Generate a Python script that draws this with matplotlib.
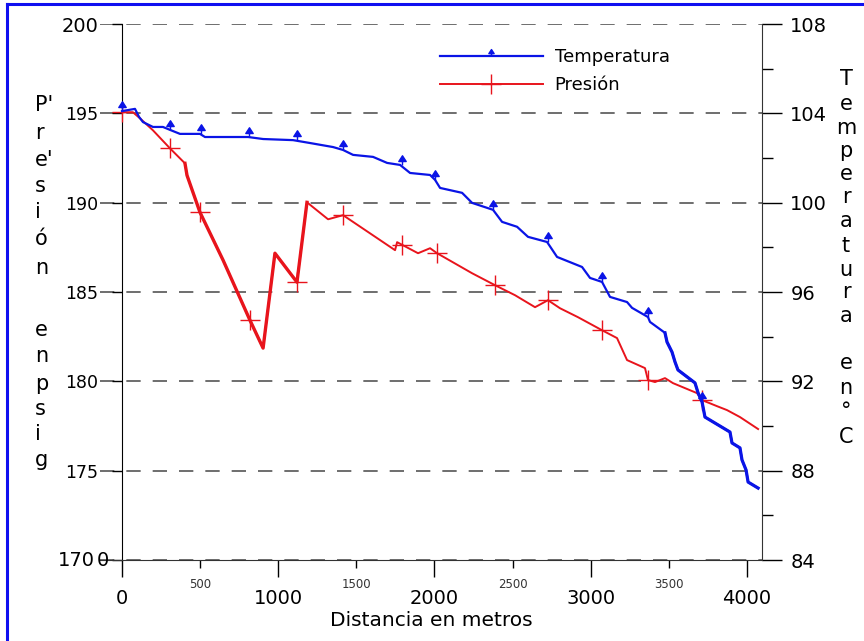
import matplotlib
matplotlib.use("Agg")
import matplotlib.pyplot as plt
from matplotlib.path import Path
from matplotlib.lines import Line2D

# Temperatura (C) a lo largo de la linea
dist_temp = [0, 83, 109, 134, 198, 262, 307, 371, 499, 531,
             807, 903, 1095, 1204, 1351, 1415, 1479, 1607, 1697, 1780,
             1844, 1972, 2004, 2036, 2177, 2241, 2375, 2433, 2529, 2599,
             2721, 2785, 2945, 2996, 3073, 3124, 3233, 3265, 3367, 3380,
             3476, 3489, 3521, 3540, 3559, 3668, 3688, 3713, 3732, 3892,
             3905, 3956, 3969, 3995, 4008, 4072]
temperatura = [104.1, 104.2, 103.84, 103.61, 103.39, 103.39, 103.26, 103.08, 103.08, 102.94,
               102.94, 102.85, 102.80, 102.67, 102.49, 102.36, 102.14, 102.05, 101.78, 101.69,
               101.33, 101.24, 101.02, 100.66, 100.44, 99.99, 99.68, 99.14, 98.92, 98.47,
               98.24, 97.57, 97.12, 96.63, 96.45, 95.78, 95.55, 95.29, 94.88, 94.66,
               94.17, 93.76, 93.31, 92.87, 92.51, 91.93, 91.48, 91.08, 90.40, 89.73,
               89.24, 89.02, 88.48, 88.03, 87.49, 87.22]
temp_mark_x = [0, 307, 506, 813, 1120, 1415, 1793, 2004, 2375, 2727, 3073, 3367, 3713]
temp_mark_y = [104.1, 103.26, 103.08, 102.94, 102.8, 102.36, 101.69, 101.02, 99.68, 98.24, 96.45, 94.88, 91.08]

# Presion (psig)
dist_pres = [0, 70, 115, 198, 307, 403, 416, 499, 647, 819,
             903, 979, 1120, 1184, 1319, 1415, 1748, 1761, 1895, 1972,
             2017, 2241, 2388, 2516, 2644, 2727, 2804, 2919, 3073, 3169,
             3233, 3348, 3367, 3412, 3476, 3527, 3681, 3713, 3809, 3873,
             3956, 4072]
presion = [195.06, 195.06, 194.72, 194.05, 193.04, 192.2, 191.53, 189.46, 186.78, 183.42,
           181.86, 187.17, 185.55, 190.02, 189.07, 189.3, 187.34, 187.79, 187.17, 187.45,
           187.17, 186.05, 185.38, 184.82, 184.15, 184.54, 184.09, 183.59, 182.86, 182.42,
           181.19, 180.74, 180.07, 179.96, 180.18, 179.9, 179.34, 178.95, 178.61, 178.39,
           178.0, 177.33]
pres_mark_x = [0, 307, 499, 819, 1120, 1415, 1793, 2017, 2388, 2727, 3073, 3367, 3713]
pres_mark_y = [195.06, 193.04, 189.46, 183.42, 185.55, 189.3, 187.62, 187.17, 185.38, 184.54, 182.86, 180.07, 178.95]

p_ticks = [170, 175, 180, 185, 190, 195, 200]
t_ticks = [84, 88, 92, 96, 100, 104, 108]
t_minor = [86, 90, 94, 98, 102, 106]
x_major = [0, 1000, 2000, 3000, 4000]
x_minor = [500, 1500, 2500, 3500]

W, H = 864, 641
BLUE = '#0a14e6'
RED = '#e8141c'


def fx(px):
    return px / W


def fy(py):
    return 1 - py / H


# flechita usada como marcador de temperatura
arrow = Path([(0, 0), (0, 0.5), (-0.42, 0.45), (0, 1.1), (0.42, 0.45), (0, 0.45)],
             [Path.MOVETO, Path.LINETO, Path.MOVETO, Path.LINETO, Path.LINETO, Path.CLOSEPOLY])

fig = plt.figure(figsize=(W / 100, H / 100), dpi=100)
ax = fig.add_axes([fx(100), fy(560), fx(762) - fx(100), fy(24) - fy(560)])
ax2 = ax.twinx()

ax.set_xlim(-141, 4097)
ax.set_ylim(170, 200)
ax2.set_ylim(84, 108)

# presion
ax.plot(dist_pres, presion, color=RED, lw=1.4, zorder=3)
ax.plot(dist_pres[5:14], presion[5:14], color=RED, lw=2.4, zorder=3)
ax.plot(pres_mark_x, pres_mark_y, ls='none', marker='+', ms=15, mew=1.0, color=RED, zorder=4)

# temperatura
ax2.plot(dist_temp, temperatura, color=BLUE, lw=1.6, zorder=3)
ax2.plot(dist_temp[40:], temperatura[40:], color=BLUE, lw=2.3, zorder=3)
ax2.plot(temp_mark_x, temp_mark_y, ls='none', marker=arrow, ms=14, mew=1.0,
         color=BLUE, zorder=4)

# ejes
for s in ['top', 'right']:
    ax.spines[s].set_visible(False)
for s in ['top', 'left', 'bottom']:
    ax2.spines[s].set_visible(False)
ax.spines['left'].set_position(('data', 0))
ax.spines['left'].set_color('black')
ax.spines['bottom'].set_color('#333333')
ax2.spines['right'].set_color('#333333')

ax.set_yticks(p_ticks)
# el 170 va aparte, junto al "0" suelto
ax.set_yticklabels([''] + [str(v) for v in p_ticks[1:]])
ax.tick_params(axis='y', length=7, width=1, pad=10, labelsize=12.5)
for lbl in ax.get_yticklabels():
    if lbl.get_text() == '200':
        lbl.set_fontsize(14)
ax.yaxis.grid(True, linestyle=(0, (8.6, 7.2)), color='#555555', lw=1.2)
ax.set_axisbelow(True)

ax.set_xticks(x_major)
ax.set_xticklabels([str(v) for v in x_major])
ax.set_xticks(x_minor, minor=True)
ax.set_xticklabels([str(v) for v in x_minor], minor=True)
ax.tick_params(axis='x', which='major', length=12, width=1, pad=9, labelsize=14)
ax.tick_params(axis='x', which='minor', length=6, width=1, pad=7, labelsize=8.5, labelcolor='#333333')

ax2.set_yticks(t_ticks)
ax2.set_yticks(t_minor, minor=True)
ax2.tick_params(axis='y', which='major', length=14.4, width=1, pad=6, labelsize=14)
ax2.tick_params(axis='y', which='minor', length=8, width=1)

ax.set_xlabel('Distancia en metros', fontsize=14.5, labelpad=2)

fig.text(fx(95), fy(561), str(p_ticks[0]), ha='right', va='center', fontsize=14)
fig.text(fx(103), fy(561), '0', ha='center', va='center', fontsize=14)

# titulos verticales, una letra por renglon
left_chars = ["P'", 'r', "e'", 's', 'i', 'ó', 'n', 'e', 'n', 'p', 's', 'i', 'g']
left_y = [105, 133, 160, 186, 212, 239, 268, 330, 356, 384, 409, 434, 460]
for ch, py in zip(left_chars, left_y):
    fig.text(fx(35), fy(py), ch, ha='left', va='center', fontsize=15)

right_chars = ['T', 'e', 'm', 'p', 'e', 'r', 'a', 't', 'u', 'r', 'a', 'e', 'n', '°', 'C']
right_y = [79, 104, 128, 151, 174, 197, 221, 246, 270, 292, 316, 363, 388, 411, 437]
for ch, py in zip(right_chars, right_y):
    fig.text(fx(846), fy(py), ch, ha='center', va='center', fontsize=15)

# leyenda
handles = [Line2D([], [], color=BLUE, lw=1.6, marker=arrow, ms=10, mew=1.0),
           Line2D([], [], color=RED, lw=1.4, marker='+', ms=15, mew=1.0)]
ax.legend(handles, ['Temperatura', 'Presión'], loc='upper left',
          bbox_to_anchor=(fx(440), fy(48)), bbox_transform=fig.transFigure,
          frameon=False, fontsize=13, handlelength=5.7, handletextpad=0.65,
          borderpad=0, borderaxespad=0, labelspacing=0.55, markerscale=1.0)

# marco azul (solo arriba e izquierda)
fig.add_artist(Line2D([fx(7), 1], [fy(4), fy(4)], color='#1010f0', lw=2.2, transform=fig.transFigure))
fig.add_artist(Line2D([fx(7), fx(7)], [0, fy(4)], color='#1010f0', lw=2.2, transform=fig.transFigure))

fig.savefig('out.png', dpi=100)
